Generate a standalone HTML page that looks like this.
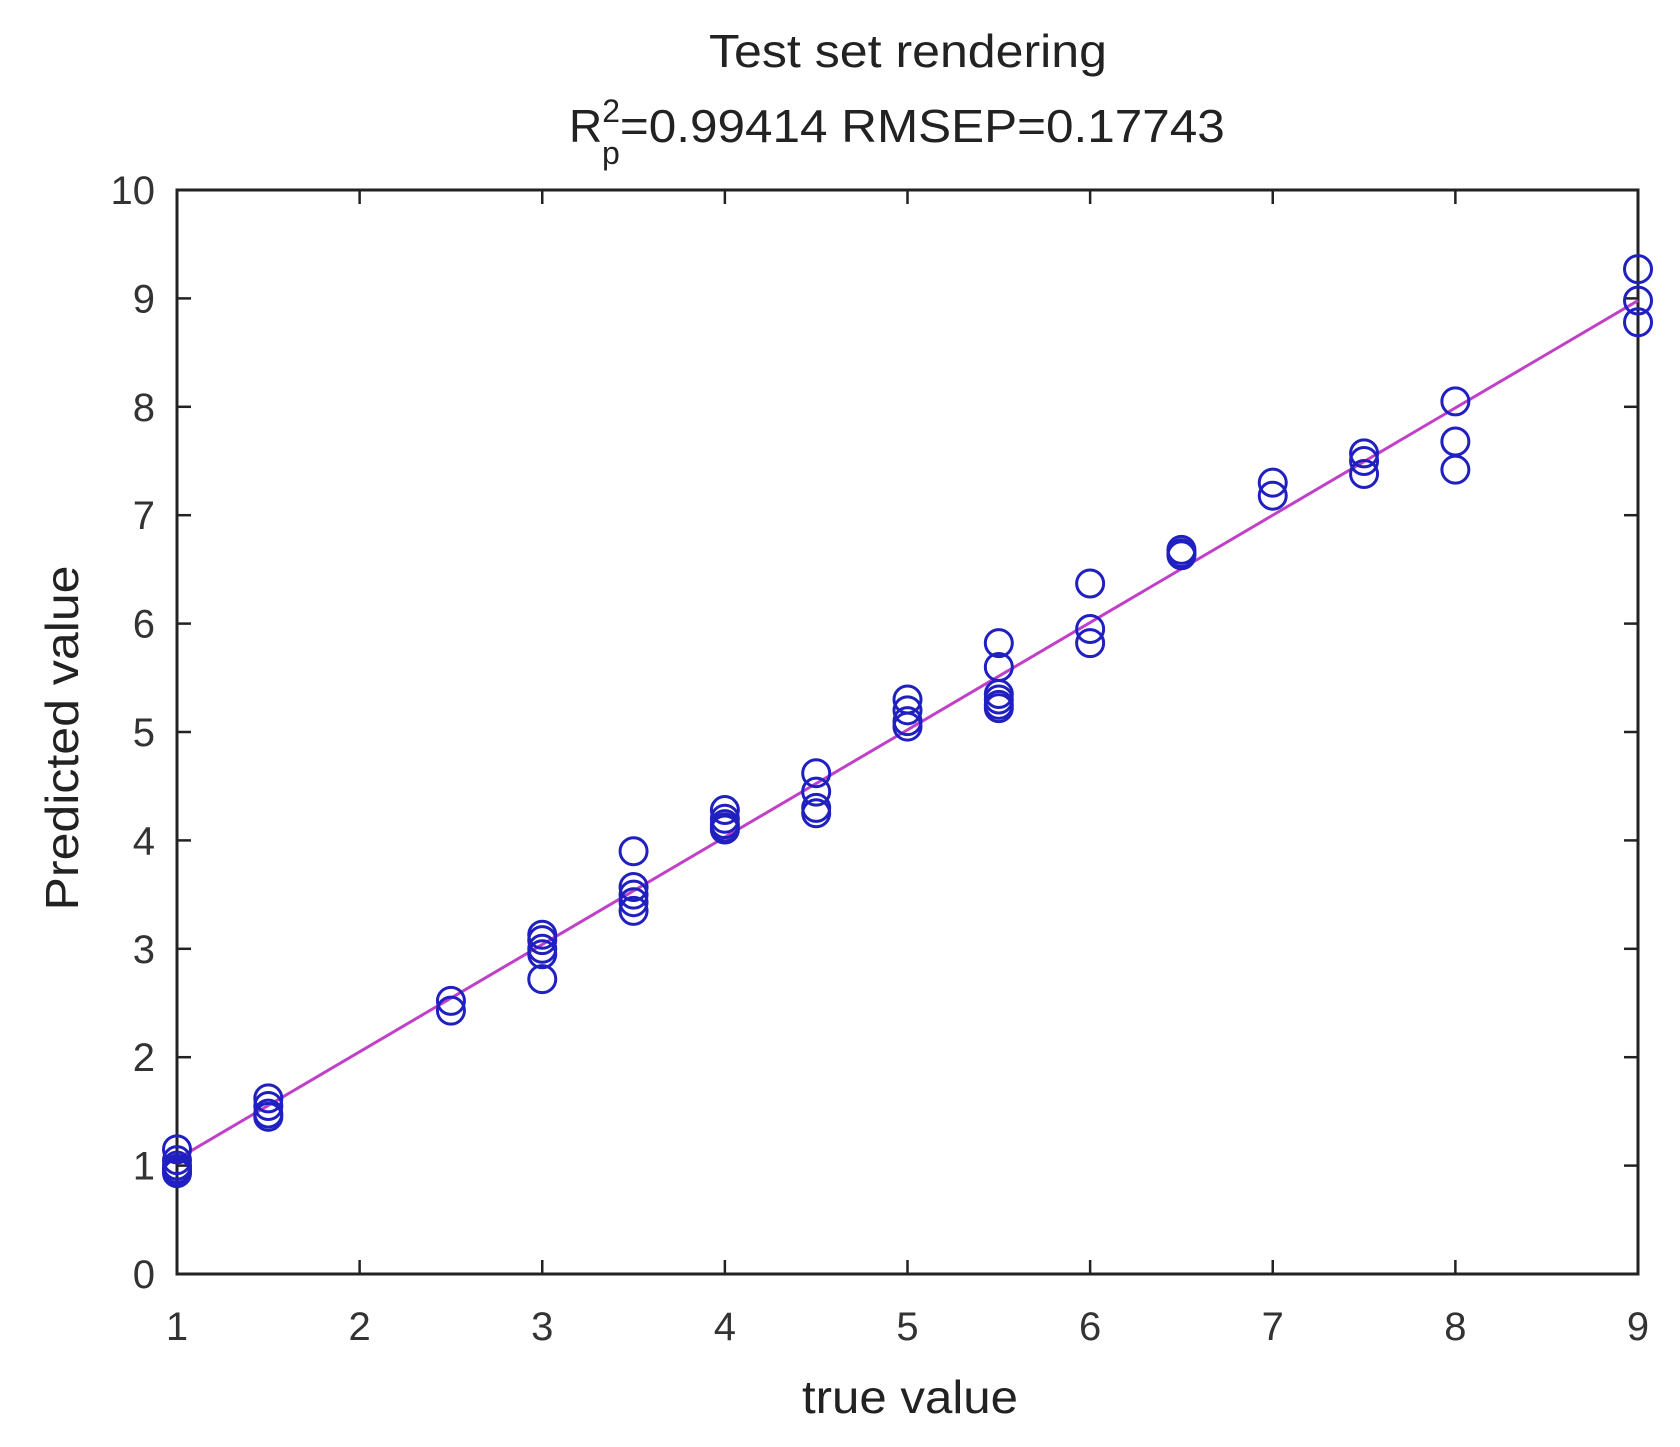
<!DOCTYPE html>
<html><head><meta charset="utf-8"><style>
html,body{margin:0;padding:0;background:#fff;}
svg{display:block;font-family:"Liberation Sans",Arial,sans-serif;}
</style></head><body>
<svg id="chart" width="1680" height="1447" viewBox="0 0 1680 1447" xmlns="http://www.w3.org/2000/svg">
<rect width="1680" height="1447" fill="#fff"/>
<text x="908" y="67" font-size="46" text-anchor="middle" textLength="398" lengthAdjust="spacingAndGlyphs" fill="#222">Test set rendering</text>
<text x="569" y="142" font-size="46" fill="#222">R<tspan font-size="32" dy="-20">2</tspan><tspan font-size="32" dx="-18" dy="42">p</tspan><tspan dy="-22" textLength="605" lengthAdjust="spacingAndGlyphs">=0.99414  RMSEP=0.17743</tspan></text>
<g id="plot"></g>
<text x="910" y="1413" font-size="46" text-anchor="middle" textLength="216" lengthAdjust="spacingAndGlyphs" fill="#222">true value</text>
<text transform="translate(78,738) rotate(-90)" font-size="46" text-anchor="middle" textLength="345" lengthAdjust="spacingAndGlyphs" fill="#222">Predicted value</text>
</svg>
<script>
const xTicks=[1,2,3,4,5,6,7,8,9];
const yTicks=[0,1,2,3,4,5,6,7,8,9,10];
const trueVals=[1,1,1,1,1,1, 1.5,1.5,1.5,1.5, 2.5,2.5, 3,3,3,3,3, 3.5,3.5,3.5,3.5,3.5, 4,4,4,4,4, 4.5,4.5,4.5,4.5, 5,5,5,5, 5.5,5.5,5.5,5.5,5.5,5.5, 6,6,6, 6.5,6.5,6.5, 7,7, 7.5,7.5,7.5, 8,8,8, 9,9,9];
const predVals=[1.15,1.05,1.0,0.97,0.95,0.93, 1.62,1.55,1.48,1.45, 2.52,2.43, 3.13,3.08,3.0,2.95,2.72, 3.9,3.57,3.5,3.43,3.35, 4.28,4.2,4.15,4.12,4.1, 4.62,4.45,4.3,4.25, 5.3,5.2,5.1,5.05, 5.82,5.6,5.35,5.3,5.25,5.22, 6.37,5.95,5.82, 6.68,6.65,6.63, 7.3,7.18, 7.57,7.5,7.38, 8.05,7.68,7.42, 9.27,8.98,8.78];
const fitX=[1,9];
const fitY=[1.06,8.98];
const NS='http://www.w3.org/2000/svg';
const L=177,R=1638,T=190,B=1274;
const sx=v=>L+(v-1)/(9-1)*(R-L);
const sy=v=>B-(v-0)/(10-0)*(B-T);
const g=document.getElementById('plot');
function mk(tag,attrs){const e=document.createElementNS(NS,tag);for(const k in attrs)e.setAttribute(k,attrs[k]);g.appendChild(e);return e;}
const fr=mk('rect',{x:L,y:T,width:R-L,height:B-T,fill:'none',stroke:'#222','stroke-width':3});


xTicks.forEach(t=>{
  const x=sx(t);
  const a=mk('line',{x1:x,y1:B,x2:x,y2:B-14,stroke:'#222','stroke-width':2.5});
  
  
  const b=mk('line',{x1:x,y1:T,x2:x,y2:T+14,stroke:'#222','stroke-width':2.5});
  
  
  const tx=mk('text',{x:x,y:B+66,'font-size':40,'text-anchor':'middle',fill:'#333'});
  tx.textContent=t;
  
  
});
yTicks.forEach(t=>{
  const y=sy(t);
  const a=mk('line',{x1:L,y1:y,x2:L+14,y2:y,stroke:'#222','stroke-width':2.5});
  
  
  const b=mk('line',{x1:R,y1:y,x2:R-14,y2:y,stroke:'#222','stroke-width':2.5});
  
  
  const tx=mk('text',{x:L-22,y:y+14,'font-size':40,'text-anchor':'end',fill:'#333'});
  tx.textContent=t;
  
  
});
const fl=mk('line',{x1:sx(fitX[0]),y1:sy(fitY[0]),x2:sx(fitX[1]),y2:sy(fitY[1]),stroke:'#c040c8','stroke-width':3});


trueVals.forEach((v,i)=>{
  const c=mk('circle',{cx:sx(v),cy:sy(predVals[i]),r:13.5,fill:'none',stroke:'#2020c0','stroke-width':3});
  
  
});
</script>
</body></html>
